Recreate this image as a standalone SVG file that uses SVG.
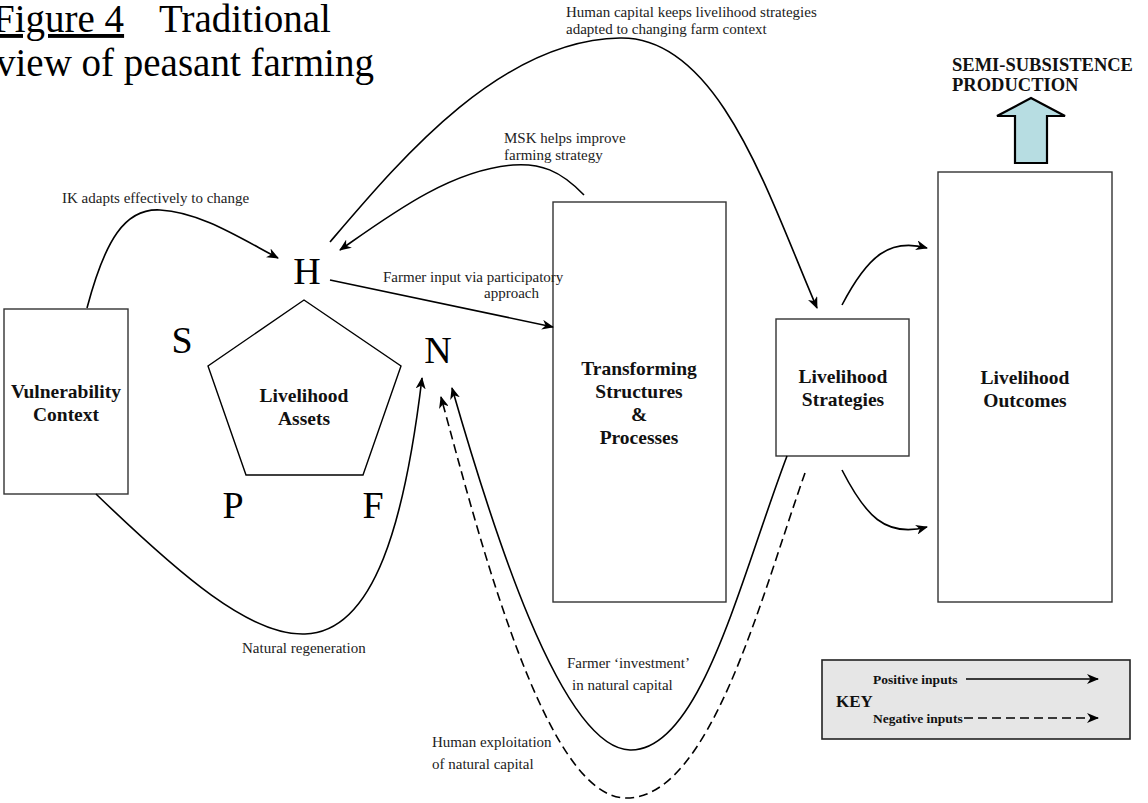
<svg xmlns="http://www.w3.org/2000/svg" width="1148" height="803" viewBox="0 0 1148 803">
<style>
.box{fill:#fff;stroke:#333;stroke-width:1.4}
.bl{font-family:"Liberation Serif",serif;font-weight:bold;font-size:19.5px;text-anchor:middle;fill:#111}
.lbl{font-family:"Liberation Serif",serif;font-size:15px;fill:#222}
.big{font-family:"Liberation Serif",serif;font-size:38px;text-anchor:middle;fill:#000}
.title{font-family:"Liberation Serif",serif;font-size:39px;fill:#000}
.c{fill:none;stroke:#000;stroke-width:1.6}
.d{stroke-dasharray:9,5}
</style>
<defs>
<marker id="ah" viewBox="0 0 12 10" refX="11" refY="5" markerWidth="12" markerHeight="10" markerUnits="userSpaceOnUse" orient="auto">
<path d="M0,0 L12,5 L0,10 L3.5,5 z" fill="#000"/>
</marker>
</defs>

<g id="title">
<text class="title" x="-7" y="32"><tspan text-decoration="underline">Figure 4</tspan></text>
<text class="title" x="159" y="32">Traditional</text>
<text class="title" x="-4" y="76">view of peasant farming</text>
</g>

<g id="vulnerability">
<rect class="box" x="4" y="309" width="124" height="185"/>
<text class="bl" x="66" y="398">Vulnerability</text>
<text class="bl" x="66" y="421">Context</text>
</g>

<g id="assets">
<polygon points="304,300 401,366 363,475 246,475 208,366" fill="#fff" stroke="#000" stroke-width="1.4"/>
<text class="bl" x="304" y="402">Livelihood</text>
<text class="bl" x="304" y="425">Assets</text>
</g>
<g id="letter-H"><text class="big" x="307" y="284">H</text></g>
<g id="letter-S"><text class="big" x="182" y="353">S</text></g>
<g id="letter-N"><text class="big" x="438" y="363">N</text></g>
<g id="letter-P"><text class="big" x="233" y="518">P</text></g>
<g id="letter-F"><text class="big" x="373" y="518">F</text></g>

<g id="transforming">
<rect class="box" x="553" y="202" width="173" height="400"/>
<text class="bl" x="639" y="375">Transforming</text>
<text class="bl" x="639" y="398">Structures</text>
<text class="bl" x="639" y="421">&amp;</text>
<text class="bl" x="639" y="444">Processes</text>
</g>

<g id="strategies">
<rect class="box" x="776" y="319" width="133" height="137"/>
<text class="bl" x="843" y="383">Livelihood</text>
<text class="bl" x="843" y="406">Strategies</text>
</g>

<g id="outcomes">
<rect class="box" x="938" y="172" width="174" height="430"/>
<text class="bl" x="1025" y="384">Livelihood</text>
<text class="bl" x="1025" y="407">Outcomes</text>
</g>

<g id="semi-subsistence">
<text class="bl" x="952" y="71" style="text-anchor:start;font-size:18.5px">SEMI-SUBSISTENCE</text>
<text class="bl" x="952" y="91" style="text-anchor:start;font-size:18.5px">PRODUCTION</text>
<polygon points="1031,98 1065,116 1047,116 1047,163 1015,163 1015,116 997,116" fill="#b7dde2" stroke="#000" stroke-width="2.2" stroke-linejoin="miter"/>
</g>

<g id="connectors">
<path class="c" d="M87,308 C105,240 125,208 160,210 C200,212 240,238 278,258" marker-end="url(#ah)"/>
<path class="c" d="M584,195 C560,170 540,163 513,165 C450,170 390,215 340,250" marker-end="url(#ah)"/>
<path class="c" d="M330,242 C400,160 500,40 620,38 C720,36 770,200 817,308" marker-end="url(#ah)"/>
<path class="c" d="M330,280 L553,327" marker-end="url(#ah)"/>
<path class="c" d="M96,494 C180,575 250,636 305,634 C375,632 405,520 422,378" marker-end="url(#ah)"/>
<path class="c" d="M787,456 C740,580 700,752 630,750 C560,748 490,520 452,388" marker-end="url(#ah)"/>
<path class="c d" d="M805,473 C760,600 710,800 625,798 C545,796 480,540 441,397" marker-end="url(#ah)"/>
<path class="c" d="M842,305 C868,255 890,238 927,248" marker-end="url(#ah)"/>
<path class="c" d="M842,470 C865,515 885,538 927,527" marker-end="url(#ah)"/>
</g>

<g id="labels">
<text class="lbl" x="566" y="17">Human capital keeps livelihood strategies</text>
<text class="lbl" x="566" y="34">adapted to changing farm context</text>
<text class="lbl" x="504" y="143">MSK helps improve</text>
<text class="lbl" x="504" y="160">farming strategy</text>
<text class="lbl" x="62" y="203">IK adapts effectively to change</text>
<text class="lbl" x="383" y="282">Farmer input via participatory</text>
<text class="lbl" x="484" y="298">approach</text>
<text class="lbl" x="242" y="653">Natural regeneration</text>
<text class="lbl" x="567" y="668">Farmer ‘investment’</text>
<text class="lbl" x="572" y="690">in natural capital</text>
<text class="lbl" x="432" y="747">Human exploitation</text>
<text class="lbl" x="432" y="769">of natural capital</text>
</g>

<g id="key">
<rect x="822" y="660" width="308" height="79" fill="#e6e6e6" stroke="#222" stroke-width="1.6"/>
<text class="bl" x="836" y="707" style="text-anchor:start;font-size:17px">KEY</text>
<text class="bl" x="873" y="684" style="text-anchor:start;font-size:13.5px">Positive inputs</text>
<text class="bl" x="873" y="723" style="text-anchor:start;font-size:13.5px">Negative inputs</text>
<path class="c" d="M966,679 L1098,679" marker-end="url(#ah)"/>
<path class="c d" d="M964,718 L1098,718" marker-end="url(#ah)"/>
</g>
</svg>
